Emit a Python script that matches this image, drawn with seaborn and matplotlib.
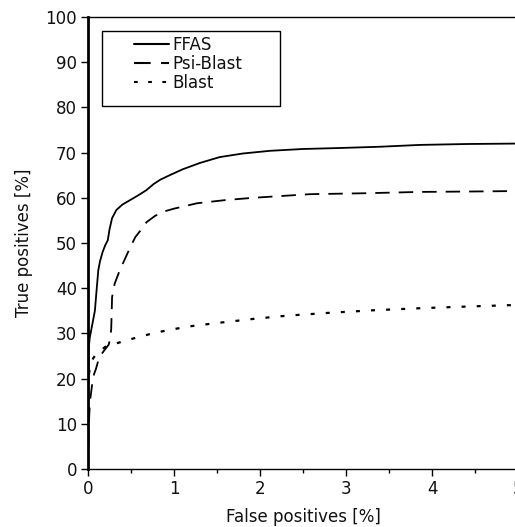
import pandas as pd
import matplotlib
matplotlib.use("Agg")
import matplotlib.pyplot as plt
import seaborn as sns
from matplotlib.patches import Rectangle
from matplotlib.ticker import MultipleLocator

# curves (false positives %, true positives %)
ffas_x = [0, 0.01, 0.02, 0.05, 0.08, 0.1, 0.12, 0.14, 0.17, 0.2, 0.23, 0.25, 0.28, 0.33,
          0.4, 0.49, 0.58, 0.68, 0.76, 0.84, 0.95, 1.1, 1.3, 1.53, 1.8, 2.12, 2.5, 2.9,
          3.4, 3.86, 4.4, 5.0]
ffas_y = [10, 27, 29, 32, 35, 39.6, 44, 46, 48, 49.5, 50.6, 53, 55.5, 57.3,
          58.5, 59.5, 60.5, 61.7, 63, 64, 65, 66.3, 67.7, 69, 69.8, 70.4, 70.8, 71,
          71.3, 71.7, 71.9, 72]

psi_x = [0, 0.005, 0.01, 0.02, 0.03, 0.05, 0.07, 0.09, 0.12, 0.16, 0.2, 0.24, 0.26, 0.27,
         0.28, 0.31, 0.37, 0.43, 0.49, 0.55, 0.62, 0.68, 0.78, 0.87, 1.0, 1.27, 1.6, 1.92,
         2.58, 3.2, 3.86, 4.5, 5.0]
psi_y = [0, 5, 10, 14, 16, 19, 21, 22, 24, 25.5, 26.5, 27.5, 29, 31,
         38, 41, 44, 46.5, 49, 51.3, 53, 54.6, 56, 56.9, 57.6, 58.8, 59.5, 60,
         60.8, 61, 61.3, 61.4, 61.5]

blast_x = [0.01, 0.03, 0.06, 0.1, 0.15, 0.2, 0.28, 0.4, 0.55, 0.75, 0.95, 1.2, 1.5, 1.92,
           2.3, 2.76, 3.3, 3.9, 4.5, 5.0]
blast_y = [21, 23, 24.5, 25.5, 26.3, 27, 27.5, 28.2, 29, 30, 30.8, 31.6, 32.3, 33.2,
           33.9, 34.5, 35.1, 35.6, 36, 36.3]

sns.set_style("ticks")
plt.rcParams["font.family"] = ["DejaVu Sans"]

fig = plt.figure(figsize=(5.15, 5.27), dpi=100)
ax = fig.add_axes([88 / 515, 58 / 527, 430 / 515, 452 / 527])

sns.lineplot(x=ffas_x, y=ffas_y, color="black", lw=1.3, ax=ax, label="FFAS", sort=False)
sns.lineplot(x=psi_x, y=psi_y, color="black", lw=1.3, ax=ax, label="Psi-Blast", sort=False)
sns.lineplot(x=blast_x, y=blast_y, color="black", lw=1.6, ax=ax, label="Blast", sort=False)
ax.lines[1].set_dashes((8, 5))
ax.lines[2].set_dashes((1.8, 5))

ax.set_xlim(0, 5)
ax.set_ylim(0, 100)
ax.set_yticks(range(0, 101, 10))
ax.set_xticks(range(0, 6))
ax.xaxis.set_minor_locator(MultipleLocator(0.5))
ax.tick_params(axis="both", which="major", labelsize=12, length=5, width=1, color="black",
               labelcolor="#111111", pad=3, direction="out")
ax.tick_params(axis="x", which="minor", length=3, width=1, color="black", direction="out")

for s in ["top", "bottom"]:
    ax.spines[s].set_linewidth(1)
    ax.spines[s].set_color("black")
ax.spines["left"].set_linewidth(2)
ax.spines["left"].set_color("black")
ax.spines["right"].set_visible(False)

ax.set_xlabel("False positives [%]", fontsize=12, labelpad=7, color="#111111")
ax.set_ylabel("True positives [%]", fontsize=12, labelpad=9, color="#111111")

leg = ax.legend(loc="upper left", bbox_to_anchor=(0.108, 0.958), frameon=False,
                fontsize=12, handlelength=2.1, handletextpad=0.2, labelspacing=0.05,
                borderpad=0, borderaxespad=0)
for t in leg.get_texts():
    t.set_color("#111111")
for h in leg.get_lines():
    h.set_linewidth(1.5)
ax.add_patch(Rectangle((0.0326, 0.803), 0.414, 0.166, transform=ax.transAxes,
                       fill=False, edgecolor="black", lw=1, zorder=5))

fig.savefig("out.png", dpi=100)
